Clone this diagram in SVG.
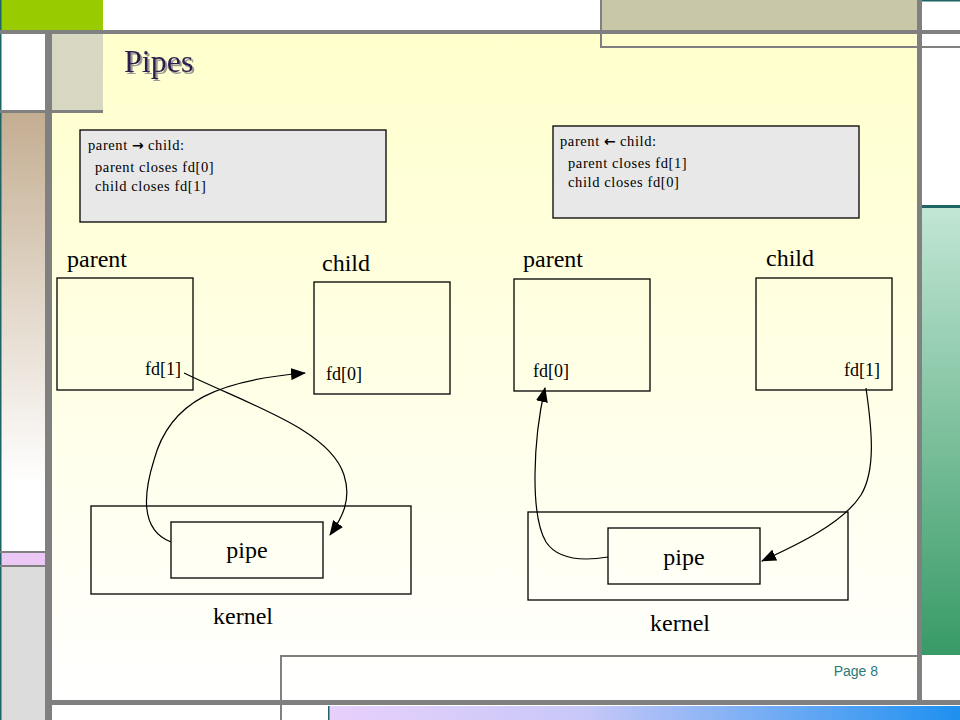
<svg xmlns="http://www.w3.org/2000/svg" width="960" height="720" viewBox="0 0 960 720">
<defs>
<linearGradient id="gYellow" x1="0" y1="0" x2="0" y2="1"><stop offset="0" stop-color="#FFFFCC"/><stop offset="1" stop-color="#FFFFFF"/></linearGradient>
<linearGradient id="gTan" x1="0" y1="0" x2="0" y2="1"><stop offset="0" stop-color="#C4AE92"/><stop offset="0.85" stop-color="#FFFFFF"/><stop offset="1" stop-color="#FFFFFF"/></linearGradient>
<linearGradient id="gGreen" x1="0" y1="0" x2="0" y2="1"><stop offset="0" stop-color="#C2E6D4"/><stop offset="1" stop-color="#389A66"/></linearGradient>
<linearGradient id="gBlue" x1="0" y1="0" x2="1" y2="0"><stop offset="0" stop-color="#E8D0FC"/><stop offset="0.4" stop-color="#C8C8F8"/><stop offset="1" stop-color="#1E90F0"/></linearGradient>
<filter id="shadow" x="-10%" y="-20%" width="130%" height="150%"><feDropShadow dx="2" dy="2" stdDeviation="0.6" flood-color="#9A9A9A" flood-opacity="1"/></filter>
<marker id="ah" markerUnits="userSpaceOnUse" markerWidth="15" markerHeight="12" refX="14" refY="6" orient="auto"><path d="M0,0 L15,6 L0,12 z" fill="#000"/></marker>
</defs>
<style>
.serif{font-family:"Liberation Serif","Times New Roman",serif;fill:#000}
.box{fill:none;stroke:#000;stroke-width:1.3}
.note{fill:#E8E8E8;stroke:#000;stroke-width:1.3}
.lbl{font-size:24px}
.fd{font-size:18px}
.small{font-size:14.5px;letter-spacing:0.6px}
.arr{font-family:"DejaVu Sans",sans-serif;font-weight:bold;font-size:14px;letter-spacing:0}
.conn{fill:none;stroke:#000;stroke-width:1.2;marker-end:url(#ah)}
.gray{fill:#808080}
</style>
<rect width="960" height="720" fill="#FFFFFF"/>
<g id="frame">
<rect x="52" y="34" width="865" height="666" fill="url(#gYellow)"/>
<rect x="0" y="0" width="103" height="30" fill="#99CC00"/>
<rect x="600" y="0" width="318" height="30" fill="#C8C8A8"/>
<rect x="52" y="34" width="51" height="76" fill="#D8D8C2"/>
<rect x="0" y="113" width="45" height="438" fill="url(#gTan)"/>
<rect x="0" y="553" width="45" height="12" fill="#EBC8F5"/>
<rect x="0" y="567" width="45" height="153" fill="#DCDCDC"/>
<rect x="922" y="208" width="38" height="447" fill="url(#gGreen)"/>
<rect x="922" y="205" width="38" height="3" fill="#1E6464"/>
<rect x="329" y="706" width="631" height="14" fill="url(#gBlue)"/>
<rect x="328" y="706" width="1.5" height="14" fill="#1E6464"/>
<rect x="0" y="0" width="1.5" height="720" fill="#1E6464"/>
<rect x="920" y="0" width="40" height="1.5" fill="#1E6464"/>
<rect x="0" y="30" width="960" height="4" class="gray"/>
<rect x="45" y="30" width="7" height="690" class="gray"/>
<rect x="917" y="0" width="5" height="705" class="gray"/>
<rect x="0" y="110" width="103" height="3" class="gray"/>
<rect x="0" y="551" width="45" height="2" class="gray"/>
<rect x="0" y="565" width="45" height="2" class="gray"/>
<rect x="52" y="700" width="908" height="5" class="gray"/>
<path d="M601,0 V47 H960" fill="none" stroke="#808080" stroke-width="2"/>
<path d="M281,720 V656 H917" fill="none" stroke="#808080" stroke-width="2"/>
</g>
<g id="title">
<text x="124" y="72" font-family="Liberation Serif, serif" font-size="32" fill="#2E1A4E" filter="url(#shadow)">Pipes</text>
</g>
<g id="page">
<text x="878" y="676" text-anchor="end" font-family="Liberation Sans, Arial, sans-serif" font-size="14" fill="#2A7A7A">Page 8</text>
</g>
<g id="note-left">
<rect x="80" y="130" width="306" height="92" class="note"/>
<text x="88" y="150" class="serif small">parent <tspan class="arr">→</tspan> child:</text>
<text x="95" y="172" class="serif small">parent closes fd[0]</text>
<text x="95" y="191" class="serif small">child closes fd[1]</text>
</g>
<g id="note-right">
<rect x="553" y="126" width="306" height="92" class="note"/>
<text x="560" y="146" class="serif small">parent <tspan class="arr">←</tspan> child:</text>
<text x="568" y="168" class="serif small">parent closes fd[1]</text>
<text x="568" y="187" class="serif small">child closes fd[0]</text>
</g>
<g id="left-parent">
<text x="67" y="267" class="serif lbl">parent</text>
<rect x="57" y="278" width="136" height="112" class="box"/>
<text x="145" y="375" class="serif fd">fd[1]</text>
</g>
<g id="left-child">
<text x="322" y="271" class="serif lbl">child</text>
<rect x="314" y="282" width="136" height="112" class="box"/>
<text x="326" y="380" class="serif fd">fd[0]</text>
</g>
<g id="left-kernel">
<rect x="91" y="506" width="320" height="88" class="box"/>
<text x="213" y="624" class="serif lbl">kernel</text>
</g>
<g id="left-pipe">
<rect x="171" y="522" width="152" height="56" class="box"/>
<text x="247" y="558" text-anchor="middle" class="serif lbl">pipe</text>
</g>
<g id="right-parent">
<text x="523" y="267" class="serif lbl">parent</text>
<rect x="514" y="279" width="136" height="112" class="box"/>
<text x="533" y="377" class="serif fd">fd[0]</text>
</g>
<g id="right-child">
<text x="766" y="266" class="serif lbl">child</text>
<rect x="756" y="278" width="136" height="112" class="box"/>
<text x="844" y="376" class="serif fd">fd[1]</text>
</g>
<g id="right-kernel">
<rect x="528" y="512" width="320" height="88" class="box"/>
<text x="650" y="631" class="serif lbl">kernel</text>
</g>
<g id="right-pipe">
<rect x="608" y="528" width="152" height="56" class="box"/>
<text x="684" y="565" text-anchor="middle" class="serif lbl">pipe</text>
</g>
<g id="connectors">
<path class="conn" d="M184,373 C250,405 330,430 344,475 C352,500 342,518 330,535"/>
<path class="conn" d="M171,542 C140,530 143,495 154,460 C170,400 220,380 305,373"/>
<path class="conn" d="M608,557 C590,560 560,563 546,542 C530,515 533,440 545,388"/>
<path class="conn" d="M866,388 C872,430 876,470 861,495 C842,525 790,548 762,561"/>
</g>
</svg>
